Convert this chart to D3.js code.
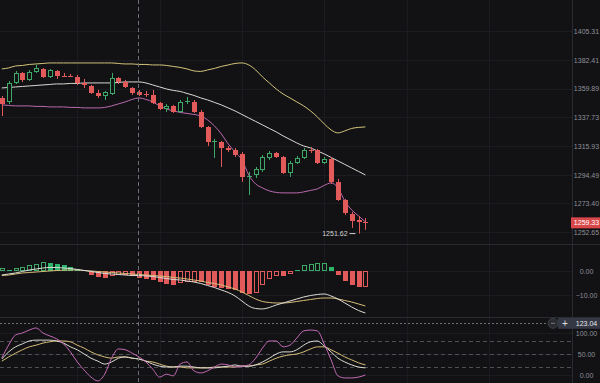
<!DOCTYPE html>
<html><head><meta charset="utf-8">
<script src="https://cdn.jsdelivr.net/npm/d3@7"></script>
<style>
html,body{margin:0;padding:0;background:#121215;}
svg{display:block;}
text{font-family:"Liberation Sans",Arial,sans-serif;}
</style></head><body>
<svg id="c" width="600" height="383"></svg>
<script>
// ---------- DATA ----------
const opens  = [1352.7,1349.6,1364.3,1372.2,1366.7,1372.9,1375.3,1369.0,1373.7,1369.9,1369.9,1369.0,1364.3,1362.0,1356.5,1354.2,1355.8,1368.2,1365.1,1360.4,1357.3,1355.9,1355.0,1348.8,1344.2,1346.5,1341.9,1349.6,1349.6,1341.9,1330.4,1319.0,1319.0,1314.5,1313.0,1310.0,1293.6,1294.4,1298.1,1307.0,1310.7,1307.7,1295.8,1303.3,1307.0,1313.1,1313.0,1303.3,1306.2,1289.2,1276.0,1265.8,1261.4,1260.0];
const highs  = [1354.2,1365.9,1373.7,1372.9,1374.5,1378.5,1376.1,1375.3,1374.5,1372.2,1371.4,1370.6,1367.5,1362.8,1358.9,1358.1,1372.2,1369.0,1366.7,1361.2,1358.9,1358.1,1358.9,1349.6,1348.0,1347.3,1351.1,1353.5,1351.1,1343.4,1331.1,1321.3,1319.8,1316.0,1314.5,1311.5,1296.6,1300.3,1309.2,1312.2,1311.5,1308.5,1304.8,1308.5,1314.5,1315.2,1313.8,1307.7,1307.7,1291.4,1276.7,1267.2,1264.3,1262.8];
const lows   = [1338.8,1348.0,1363.5,1365.1,1365.9,1372.2,1368.2,1368.2,1367.5,1369.0,1369.0,1362.8,1360.4,1355.8,1352.7,1351.1,1355.0,1363.5,1360.4,1355.0,1354.2,1353.5,1348.0,1343.4,1341.9,1341.1,1341.1,1348.0,1341.1,1329.6,1316.0,1307.0,1300.3,1311.5,1307.7,1289.2,1279.6,1292.1,1296.6,1305.5,1307.0,1295.1,1292.9,1302.5,1306.2,1310.7,1302.5,1302.5,1287.7,1275.3,1265.1,1255.7,1251.62,1254.3];
const closes = [1348.0,1364.3,1372.2,1366.7,1372.9,1376.1,1369.0,1374.5,1369.8,1369.8,1369.8,1364.3,1362.8,1356.5,1354.2,1357.3,1368.2,1365.1,1361.2,1356.5,1355.0,1355.8,1348.8,1344.2,1346.5,1341.9,1349.6,1350.3,1341.9,1330.4,1319.0,1319.8,1314.5,1313.0,1309.2,1292.9,1293.8,1298.8,1307.7,1310.7,1307.7,1295.8,1303.3,1307.0,1313.0,1313.0,1303.3,1306.2,1289.2,1276.0,1266.5,1260.7,1260.0,1259.33];

const bollUpper = [1375.35,1376.13,1377.70,1378.09,1378.88,1379.27,1379.66,1380.06,1380.06,1380.06,1380.06,1380.06,1380.06,1380.06,1380.06,1380.06,1380.06,1379.66,1379.27,1379.27,1378.88,1378.88,1378.49,1378.49,1378.09,1377.31,1376.53,1375.35,1373.78,1373.39,1374.56,1375.74,1377.31,1378.49,1379.66,1380.06,1378.49,1374.56,1369.07,1364.36,1359.66,1355.80,1352.71,1349.62,1346.53,1342.67,1338.04,1332.72,1328.17,1325.89,1327.41,1329.30,1330.06,1330.44];
const bollMid   = [1360.44,1360.83,1361.22,1361.61,1362.01,1362.40,1362.79,1363.18,1363.58,1363.58,1363.97,1363.97,1364.36,1364.36,1364.36,1364.36,1364.36,1364.75,1365.15,1365.15,1365.15,1364.36,1362.79,1361.22,1359.66,1358.50,1357.73,1356.18,1354.64,1352.71,1351.17,1349.23,1347.30,1344.99,1342.67,1339.97,1337.27,1334.62,1331.96,1329.30,1326.64,1323.61,1320.94,1318.29,1316.01,1314.51,1312.27,1310.03,1307.41,1304.80,1302.18,1299.57,1296.96,1294.34];
const bollLower = [1347.30,1346.92,1346.53,1346.53,1346.53,1346.15,1346.15,1345.76,1345.76,1345.76,1345.38,1345.38,1344.99,1344.99,1344.99,1345.38,1346.53,1348.08,1349.62,1351.55,1352.71,1351.55,1349.62,1346.53,1344.22,1342.67,1341.51,1340.74,1339.97,1338.81,1335.76,1331.20,1325.12,1317.53,1311.52,1305.55,1294.34,1287.73,1284.79,1282.59,1281.48,1281.12,1281.12,1281.12,1281.85,1282.95,1284.06,1286.63,1288.46,1284.79,1275.20,1268.70,1264.36,1260.02];

const macdDif  = [-1.67,-1.25,-0.83,-0.21,0.42,0.83,1.25,1.46,1.46,1.25,1.04,0.63,0.21,-0.21,-0.63,-1.04,-1.25,-1.46,-1.67,-1.88,-1.88,-2.08,-2.29,-2.71,-3.13,-3.54,-3.75,-4.17,-4.58,-5.21,-6.04,-6.88,-7.92,-8.96,-10.42,-12.5,-14.58,-15.63,-15.83,-15.21,-14.17,-13.33,-12.5,-11.67,-10.83,-10.21,-9.79,-9.58,-10.42,-11.67,-13.33,-15.0,-16.46,-17.5];
const macdDea  = [-1.88,-1.67,-1.25,-0.83,-0.63,-0.42,-0.21,0,0.21,0.33,0.42,0.42,0.21,0,-0.21,-0.42,-0.63,-0.83,-1.04,-1.25,-1.46,-1.67,-1.88,-2.08,-2.29,-2.71,-2.92,-3.33,-3.75,-4.17,-4.79,-5.21,-5.83,-6.67,-7.5,-8.75,-10.21,-11.67,-12.71,-13.13,-13.33,-13.33,-13.13,-12.71,-12.29,-11.88,-11.46,-11.25,-11.25,-11.67,-12.29,-12.92,-13.75,-14.58];
const macdHist = [1.2,0.3,1.3,1.8,2.4,3.0,3.6,3.4,3.0,2.3,1.7,1.0,0.3,-1.5,-2.5,-3.0,-2.0,-1.6,-1.5,-2.2,-2.8,-3.2,-3.8,-4.6,-5.3,-5.8,-5.0,-4.6,-4.4,-4.6,-5.8,-6.6,-7.0,-7.4,-7.9,-9.0,-9.6,-9.1,-5.8,-3.4,-2.1,-2.2,-1.2,0.4,2.5,3.0,3.3,3.3,1.7,-1.7,-4.2,-5.8,-6.6,-6.5];

const kdjK = [38,55,67,74,81,83,83,83,81,76,67,60,50,40,33,26,31,40,43,40,38,33,26,21,19,19,21,21,19,17,17,17,19,21,24,21,21,24,31,40,50,55,55,60,71,79,81,69,55,40,31,24,19,17];
const kdjD = [33,43,52,60,67,71,76,79,81,81,79,71,64,55,48,43,40,43,43,40,38,33,31,26,21,19,19,17,17,17,17,19,19,19,19,21,21,24,26,33,40,45,48,50,55,62,67,67,60,52,43,36,29,24];
const kdjJ = [40.5,71.4,95.2,100,107,112,100,93,86,74,55,31,12,-5,-14,2,40,62,60,52,43,31,14,-5,2,-2,26,31,10,5,10,19,26,24,19,21,24,40,64,81,81,67,71,88,105,107,105,74,36,-2,-7,-7,-5,0];

const priceTicks = [1405.31,1382.41,1359.89,1337.73,1315.93,1294.49,1273.40,1252.65];
const macdTicks = [0,-10];
const kdjTicks = [100,50,0];
const kdjLevels = [80,50,20];
const gridIdx = [11,23,35,47,59,71];
const lastPrice = 1259.33;
const lowMarkIndex = 52, lowMarkValue = 1251.62;
const crossIndex = 20, crossValue = 123.04;

// ---------- STYLE ----------
const BG='#121215', GRID='#1b1c21', AXT='#8e9098';
const RED='#e35a5b', GREEN='#3fa869', GREENF='#2fb46d';
const C_UP='#d3c47a', C_MID='#d8d8d2', C_LOW='#bb6aae';
const C_WHITE='#dcdcd4', C_YEL='#d8bd78', C_PINK='#c46bb6';
const FS=7;

const svg=d3.select('#c');
svg.append('rect').attr('width',600).attr('height',383).attr('fill',BG);
const defs=svg.append('defs');
function clip(id,y0,h){defs.append('clipPath').attr('id',id).append('rect').attr('x',0).attr('y',y0).attr('width',572).attr('height',h);}
clip('cm',0,244); clip('cd',245,72); clip('ck',318,65);

const x=d3.scaleLinear().domain([0,83]).range([1.8,571.2]);
const yP=d3.scaleLog().domain([1244.9,1430.7]).range([243,0]);
const yM=d3.scaleLinear().domain([-19.17,10.83]).range([317,245]);
const yK=d3.scaleLinear().domain([-19.05,135.7]).range([383,318]);

// grid
const grid=svg.append('g');
gridIdx.forEach(i=>{grid.append('line').attr('x1',Math.round(x(i))+0.5).attr('x2',Math.round(x(i))+0.5).attr('y1',0).attr('y2',383).attr('stroke',GRID);});
priceTicks.forEach(v=>{grid.append('line').attr('x1',0).attr('x2',572).attr('y1',Math.round(yP(v))+0.5).attr('y2',Math.round(yP(v))+0.5).attr('stroke',GRID);});
macdTicks.forEach(v=>{grid.append('line').attr('x1',0).attr('x2',572).attr('y1',Math.round(yM(v))+0.5).attr('y2',Math.round(yM(v))+0.5).attr('stroke',GRID);});
kdjTicks.forEach(v=>{grid.append('line').attr('x1',0).attr('x2',572).attr('y1',Math.round(yK(v))+0.5).attr('y2',Math.round(yK(v))+0.5).attr('stroke',GRID);});
kdjLevels.forEach(v=>{grid.append('line').attr('x1',0).attr('x2',572).attr('y1',Math.round(yK(v))+0.5).attr('y2',Math.round(yK(v))+0.5).attr('stroke','#4d4f56').attr('stroke-dasharray','4,3');});
// separators
[244.5,317.5].forEach(y=>svg.append('line').attr('x1',0).attr('x2',600).attr('y1',y).attr('y2',y).attr('stroke','#2a2b31'));
svg.append('line').attr('x1',572.5).attr('x2',572.5).attr('y1',0).attr('y2',383).attr('stroke','#2a2b31');

// ---------- MAIN ----------
const gm=svg.append('g').attr('clip-path','url(#cm)');
function drawLine(g,arr,ys,col){
  g.append('path').datum(arr).attr('fill','none').attr('stroke',col).attr('stroke-width',1)
   .attr('d',d3.line().x((d,i)=>x(i)).y(d=>ys(d)).curve(d3.curveMonotoneX));
}
drawLine(gm,bollUpper,yP,C_UP);
drawLine(gm,bollMid,yP,C_MID);
drawLine(gm,bollLower,yP,C_LOW);

opens.forEach((o,i)=>{
  const c=closes[i], up=c>=o, col=up?GREEN:RED;
  const cx=Math.round(x(i));
  const top=Math.round(yP(Math.max(o,c))), bot=Math.round(yP(Math.min(o,c)));
  gm.append('line').attr('x1',cx+0.5).attr('x2',cx+0.5).attr('y1',yP(highs[i])).attr('y2',yP(lows[i])).attr('stroke',col);
  if(bot-top<=1){
    gm.append('rect').attr('x',cx-2).attr('y',top).attr('width',5).attr('height',1).attr('fill',col);
  } else if(up){
    gm.append('rect').attr('x',cx-1.5).attr('y',top+0.5).attr('width',4).attr('height',bot-top-1).attr('fill',BG).attr('stroke',col);
  } else {
    gm.append('rect').attr('x',cx-2).attr('y',top).attr('width',5).attr('height',bot-top).attr('fill',col);
  }
});

// low marker
const lx=x(lowMarkIndex), ly=yP(lowMarkValue);
gm.append('line').attr('x1',lx-9).attr('x2',lx-3).attr('y1',ly).attr('y2',ly).attr('stroke','#cfcfcf');
gm.append('text').attr('x',lx-11).attr('y',ly+2.6).attr('text-anchor','end').attr('font-size',FS).attr('fill','#d4d4d4').text(d3.format('.2f')(lowMarkValue));

// ---------- MACD ----------
const gd=svg.append('g').attr('clip-path','url(#cd)');
macdHist.forEach((v,i)=>{
  const pos=v>=0, col=pos?GREENF:RED;
  const hollow=i===0||v>=macdHist[i-1];
  const cx=Math.round(x(i));
  const y0=Math.round(yM(0)), y1=Math.round(yM(v));
  const top=Math.min(y0,y1), h=Math.max(1,Math.abs(y1-y0));
  if(hollow&&h>2){
    gd.append('rect').attr('x',cx-1.5).attr('y',top+0.5).attr('width',4).attr('height',h-1).attr('fill','none').attr('stroke',pos?GREEN:RED);
  } else {
    gd.append('rect').attr('x',cx-2).attr('y',top).attr('width',5).attr('height',h).attr('fill',col);
  }
});
drawLine(gd,macdDea,yM,C_YEL);
drawLine(gd,macdDif,yM,C_WHITE);

// ---------- KDJ ----------
const gk=svg.append('g').attr('clip-path','url(#ck)');
drawLine(gk,kdjD,yK,C_YEL);
drawLine(gk,kdjK,yK,C_WHITE);
drawLine(gk,kdjJ,yK,C_PINK);

// ---------- AXES ----------
function axis(scale,ticks,fmt){
  const g=svg.append('g').attr('transform','translate(572,0)')
    .call(d3.axisRight(scale).tickValues(ticks).tickFormat(fmt).tickSize(0).tickPadding(14.5));
  g.select('.domain').remove();
  g.selectAll('text').attr('text-anchor','middle').attr('fill',AXT).attr('font-size',FS).attr('font-family','"Liberation Sans",Arial,sans-serif');
  return g;
}
axis(yP,priceTicks,d3.format('.2f'));
axis(yM,macdTicks,d3.format('.2f'));
axis(yK,kdjTicks,d3.format('.2f'));

// crosshair
svg.append('line').attr('x1',Math.round(x(crossIndex))-0.5).attr('x2',Math.round(x(crossIndex))-0.5).attr('y1',0).attr('y2',383).attr('stroke','#6c6f77').attr('stroke-dasharray','4,3');
const cy=yK(crossValue);
svg.append('line').attr('x1',0).attr('x2',548).attr('y1',Math.round(cy)+0.5).attr('y2',Math.round(cy)+0.5).attr('stroke','#6c6f77').attr('stroke-dasharray','2,2');
svg.append('rect').attr('x',558).attr('y',cy-5.5).attr('width',42).attr('height',11).attr('fill','#343845');
svg.append('circle').attr('cx',553).attr('cy',cy).attr('r',5).attr('fill','#2a2c32').attr('stroke','#3c3e45');
svg.append('line').attr('x1',551).attr('x2',555).attr('y1',cy).attr('y2',cy).attr('stroke','#777');
svg.append('text').attr('x',565).attr('y',cy+3.5).attr('text-anchor','middle').attr('font-size',10).attr('fill','#e0e0e0').text('+');
svg.append('text').attr('x',586.5).attr('y',cy+2.5).attr('text-anchor','middle').attr('font-size',FS).attr('fill','#e6e6e6').text(d3.format('.2f')(crossValue));

// last price label
const py=yP(lastPrice);
svg.append('rect').attr('x',571).attr('y',py-5.5).attr('width',29).attr('height',11).attr('fill','#d8484a');
svg.append('text').attr('x',586.5).attr('y',py+2.5).attr('text-anchor','middle').attr('font-size',FS).attr('fill','#ffffff').text(d3.format('.2f')(lastPrice));
</script>
</body></html>
